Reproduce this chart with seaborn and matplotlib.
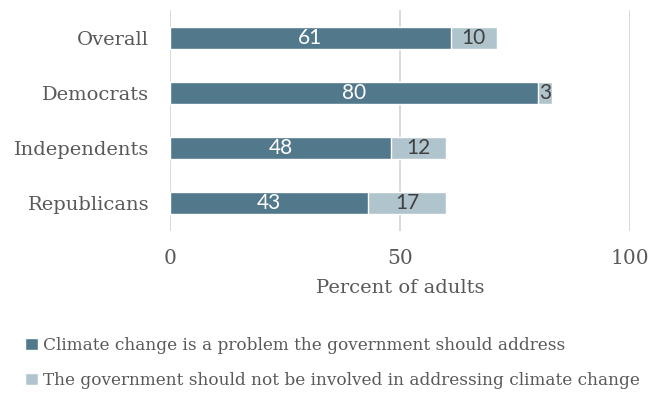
import pandas as pd
import seaborn as sns
import matplotlib.pyplot as plt
from matplotlib.patches import Patch

groups = ['Overall', 'Democrats', 'Independents', 'Republicans']
should_address = [61, 80, 48, 43]
not_involved = [10, 3, 12, 17]
x_ticks = [0, 50, 100]

label_address = 'Climate change is a problem the government should address'
label_not = 'The government should not be involved in addressing climate change'

dark = '#52788c'
light = '#afc4cc'
text_gray = '#595959'

sns.set_style('white')
plt.rcParams['font.family'] = ['DejaVu Serif']

df = pd.DataFrame({'group': groups, 'address': should_address, 'not': not_involved})
df['total'] = df['address'] + df['not']

fig = plt.figure(figsize=(6.52, 3.94), dpi=100)
ax = fig.add_axes([0.261, 0.414, 0.705, 0.56])

# light part drawn as total, dark part on top
sns.barplot(data=df, x='total', y='group', color=light, width=0.4, saturation=1, ax=ax, zorder=2)
sns.barplot(data=df, x='address', y='group', color=dark, width=0.4, saturation=1, ax=ax, zorder=3)

for i, row in df.iterrows():
    ax.text(row['address'] / 2, i, f"{row['address']}", ha='center', va='center',
            color='white', fontsize=15, family='Lato', zorder=4)
    ax.text(row['address'] + row['not'] / 2, i, f"{row['not']}", ha='center', va='center',
            color='#404040', fontsize=15, family='Lato', zorder=4)

ax.set_xlim(0, 100)
ax.set_ylim(3.5, -0.5)
ax.set_xticks(x_ticks)
ax.set_xticklabels([str(t) for t in x_ticks])
ax.xaxis.grid(True, color='#d9d9d9', linewidth=1.4, zorder=0)
ax.set_axisbelow(True)
for s in ax.spines.values():
    s.set_visible(False)
ax.tick_params(axis='x', length=0, pad=13, labelsize=14.5, labelcolor=text_gray)
ax.tick_params(axis='y', length=0, pad=15, labelsize=14, labelcolor=text_gray)
ax.set_ylabel('')
ax.set_xlabel('Percent of adults', fontsize=14, color=text_gray, labelpad=8)

handles = [Patch(facecolor=dark, label=label_address), Patch(facecolor=light, label=label_not)]
fig.legend(handles=handles, loc='upper left', bbox_to_anchor=(0.028, 0.162), frameon=False,
           fontsize=12.2, labelcolor=text_gray, handlelength=0.75, handleheight=0.75,
           handletextpad=0.3, labelspacing=1.05, borderaxespad=0)

plt.savefig('out.png', dpi=100)
